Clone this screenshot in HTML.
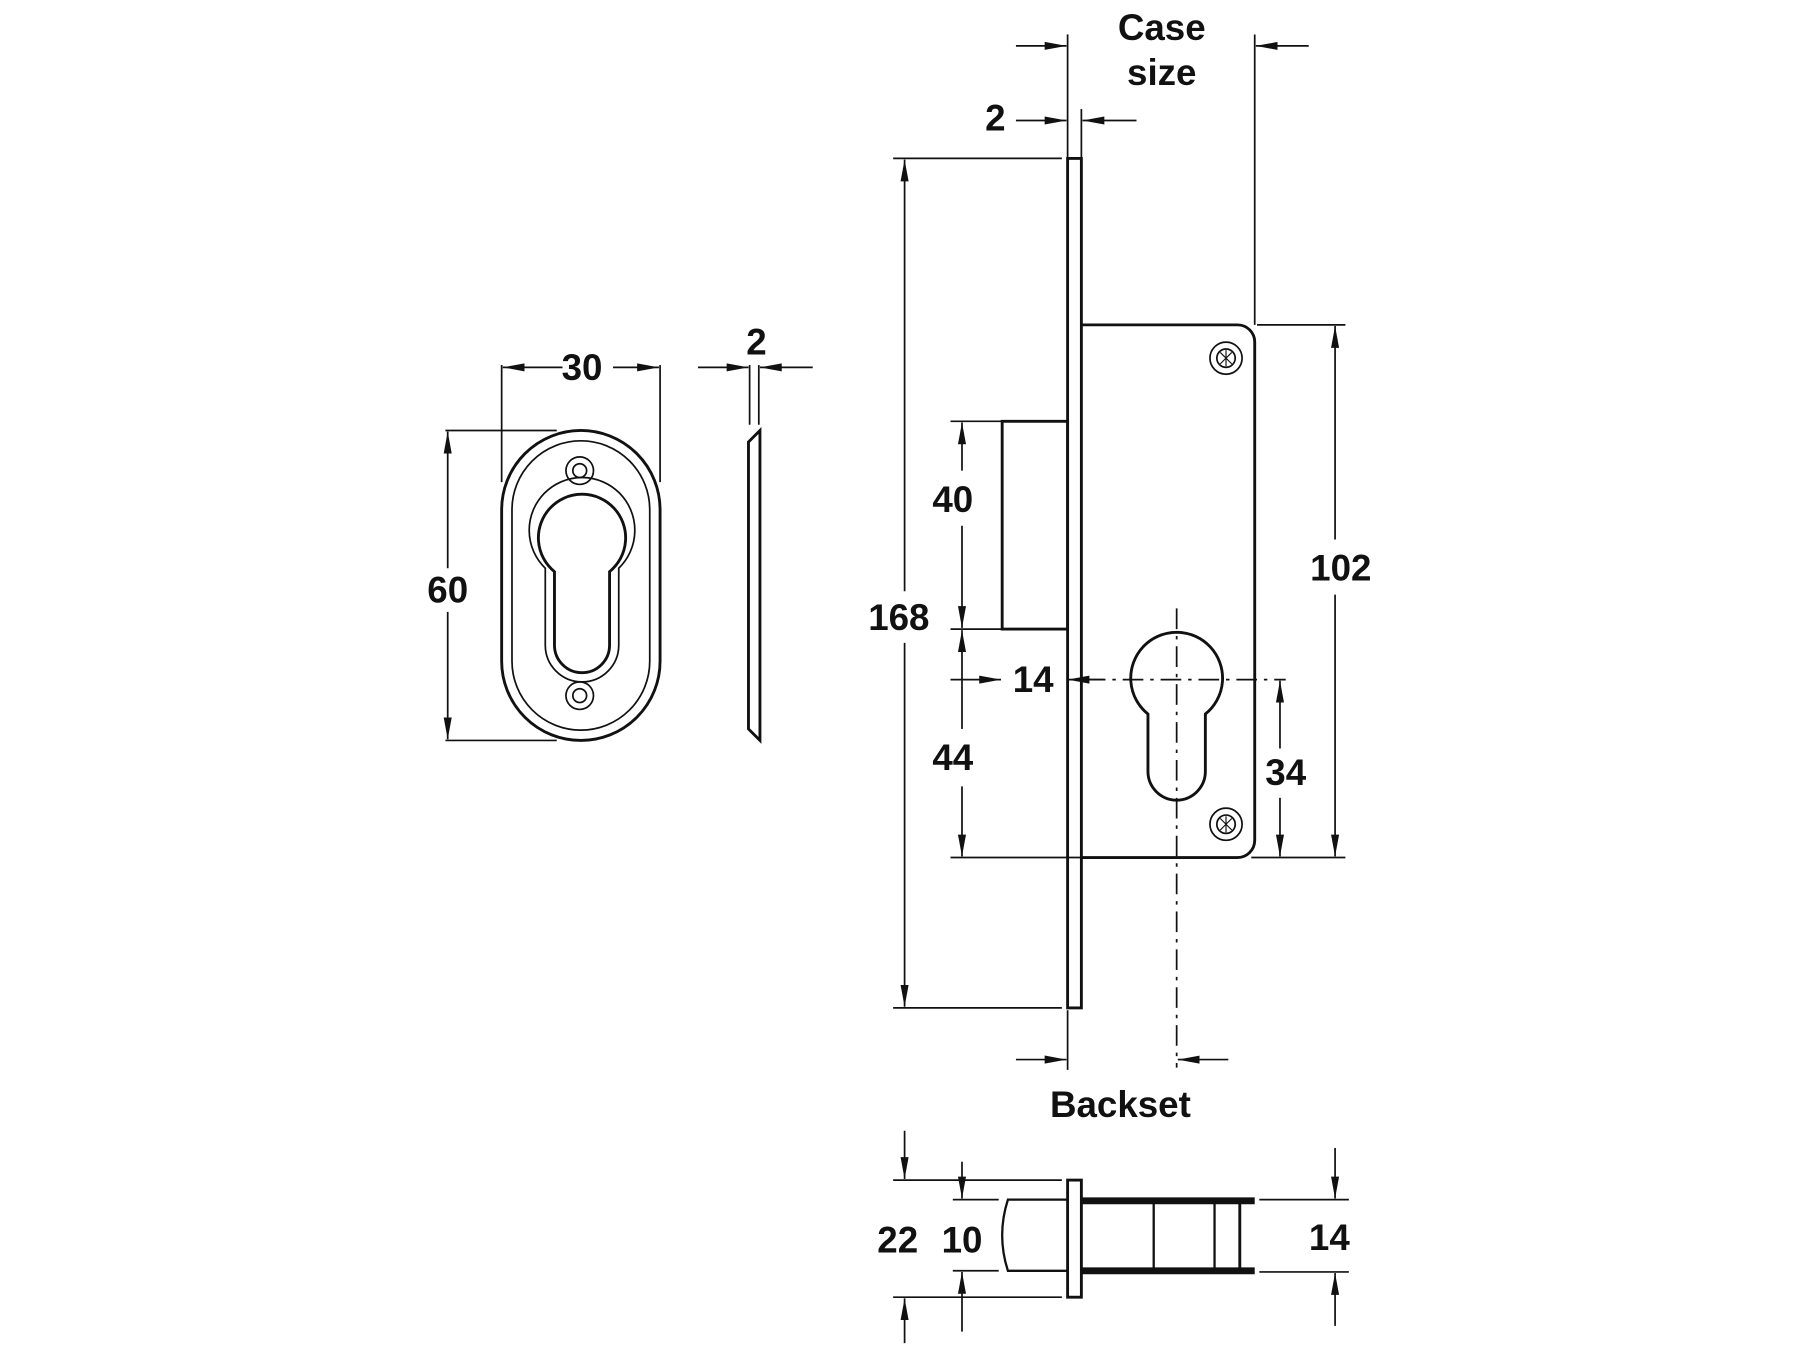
<!DOCTYPE html>
<html><head><meta charset="utf-8"><style>html,body{margin:0;padding:0;background:#fff}svg{display:block}text{font-family:"Liberation Sans",sans-serif;font-weight:bold;font-size:32px;fill:#111;text-anchor:middle;dominant-baseline:central}</style></head><body>
<svg width="1800" height="1350" viewBox="0 0 1568 1176" xmlns="http://www.w3.org/2000/svg">
<defs><marker id="a" markerWidth="20" markerHeight="10" refX="19" refY="5" orient="auto" markerUnits="userSpaceOnUse"><path d="M0,1.5 L19,5 L0,8.5 Z" fill="#111"/></marker></defs>
<g stroke="#111" fill="none" stroke-width="1.5">
<rect x="437" y="375" width="138" height="270" rx="69" ry="69" stroke-width="2.5"/>
<rect x="446" y="384" width="120" height="252" rx="60" ry="60"/>
<circle cx="505" cy="410" r="12"/><circle cx="505" cy="410" r="6"/>
<circle cx="505" cy="606" r="12"/><circle cx="505" cy="606" r="6"/>
<path d="M483,498 A38,38 0 1 1 531,498 L531,562 A24,24 0 0 1 483,562 Z" stroke-width="2.5"/>
<path d="M475,495 A46,46 0 1 1 539,495 L539,562 A32,32 0 0 1 475,562 Z"/>
<line x1="437" y1="318" x2="437" y2="420"/><line x1="575" y1="318" x2="575" y2="420"/>
<line x1="490" y1="320" x2="438" y2="320" marker-end="url(#a)"/><line x1="534" y1="320" x2="574" y2="320" marker-end="url(#a)"/>
<line x1="388" y1="375" x2="485" y2="375"/><line x1="388" y1="645" x2="485" y2="645"/>
<line x1="390" y1="495" x2="390" y2="376" marker-end="url(#a)"/><line x1="390" y1="533" x2="390" y2="644" marker-end="url(#a)"/>
<path d="M652,385 L662,375 L662,645 L652,635 Z" stroke-width="2.5"/>
<line x1="653" y1="318" x2="653" y2="370"/><line x1="661" y1="318" x2="661" y2="370"/>
<line x1="608" y1="320" x2="652" y2="320" marker-end="url(#a)"/><line x1="708" y1="320" x2="662" y2="320" marker-end="url(#a)"/>
<rect x="930" y="138" width="12" height="740" stroke-width="2.5"/>
<path d="M942,283 L1078,283 A15,15 0 0 1 1093,298 L1093,732 A15,15 0 0 1 1078,747 L942,747" stroke-width="2.5"/>
<rect x="873" y="367" width="57" height="181" stroke-width="2.5"/>
<path d="M1000,622 A40,40 0 1 1 1050,622 L1050,672 A25,25 0 0 1 1000,672 Z" stroke-width="2.5"/>
<circle cx="1068" cy="312" r="14"/><circle cx="1068" cy="312" r="8"/>
<circle cx="1068" cy="718" r="14"/><circle cx="1068" cy="718" r="8"/>
<path d="M1063,307 L1073,317 M1073,307 L1063,317 M1068,305 L1068,319 M1063,713 L1073,723 M1073,713 L1063,723 M1068,711 L1068,725" stroke-width="1"/>
<line x1="1025" y1="530" x2="1025" y2="930" stroke-dasharray="18,6,3,6"/>
<line x1="945" y1="592" x2="1120" y2="592" stroke-dasharray="18,6,3,6"/>
<line x1="778" y1="138" x2="925" y2="138"/><line x1="778" y1="878" x2="925" y2="878"/>
<line x1="788" y1="515" x2="788" y2="139" marker-end="url(#a)"/><line x1="788" y1="560" x2="788" y2="877" marker-end="url(#a)"/>
<line x1="828" y1="367" x2="873" y2="367"/><line x1="828" y1="548" x2="930" y2="548"/><line x1="828" y1="747" x2="942" y2="747"/>
<line x1="838" y1="410" x2="838" y2="368" marker-end="url(#a)"/><line x1="838" y1="458" x2="838" y2="547" marker-end="url(#a)"/>
<line x1="838" y1="635" x2="838" y2="549" marker-end="url(#a)"/><line x1="838" y1="685" x2="838" y2="746" marker-end="url(#a)"/>
<line x1="828" y1="592" x2="872" y2="592" marker-end="url(#a)"/><line x1="962" y1="592" x2="930" y2="592" marker-end="url(#a)"/>
<line x1="1090" y1="747" x2="1172" y2="747"/><line x1="1095" y1="283" x2="1172" y2="283"/>
<line x1="1115" y1="652" x2="1115" y2="593" marker-end="url(#a)"/><line x1="1115" y1="695" x2="1115" y2="746" marker-end="url(#a)"/>
<line x1="1163" y1="470" x2="1163" y2="284" marker-end="url(#a)"/><line x1="1163" y1="518" x2="1163" y2="746" marker-end="url(#a)"/>
<line x1="930" y1="30" x2="930" y2="138"/><line x1="1093" y1="30" x2="1093" y2="283"/><line x1="942" y1="95" x2="942" y2="138"/>
<line x1="885" y1="40" x2="929" y2="40" marker-end="url(#a)"/><line x1="1140" y1="40" x2="1094" y2="40" marker-end="url(#a)"/>
<line x1="885" y1="105" x2="929" y2="105" marker-end="url(#a)"/><line x1="990" y1="105" x2="943" y2="105" marker-end="url(#a)"/>
<line x1="930" y1="880" x2="930" y2="932"/>
<line x1="885" y1="923" x2="929" y2="923" marker-end="url(#a)"/><line x1="1070" y1="923" x2="1026" y2="923" marker-end="url(#a)"/>
<rect x="930" y="1028" width="12" height="102" stroke-width="2.5"/>
<path d="M930,1045 L878,1045 Q868,1076 878,1107 L930,1107" stroke-width="2"/>
<line x1="942" y1="1046" x2="1093" y2="1046" stroke-width="6"/><line x1="942" y1="1107" x2="1093" y2="1107" stroke-width="6"/>
<line x1="1005" y1="1046" x2="1005" y2="1107" stroke-width="2"/><line x1="1058" y1="1046" x2="1058" y2="1107" stroke-width="2"/><line x1="1080" y1="1046" x2="1080" y2="1107" stroke-width="2.5"/>
<line x1="778" y1="1028" x2="925" y2="1028"/><line x1="778" y1="1130" x2="925" y2="1130"/>
<line x1="830" y1="1045" x2="870" y2="1045"/><line x1="830" y1="1107" x2="870" y2="1107"/>
<line x1="788" y1="985" x2="788" y2="1027" marker-end="url(#a)"/><line x1="788" y1="1170" x2="788" y2="1131" marker-end="url(#a)"/>
<line x1="838" y1="1012" x2="838" y2="1044" marker-end="url(#a)"/><line x1="838" y1="1160" x2="838" y2="1108" marker-end="url(#a)"/>
<line x1="1097" y1="1045" x2="1175" y2="1045"/><line x1="1097" y1="1108" x2="1175" y2="1108"/>
<line x1="1163" y1="1000" x2="1163" y2="1044" marker-end="url(#a)"/><line x1="1163" y1="1155" x2="1163" y2="1109" marker-end="url(#a)"/>
</g>
<text x="507" y="320">30</text><text x="390" y="514">60</text><text x="659" y="298">2</text>
<text x="1012" y="24">Case</text><text x="1012" y="63">size</text><text x="867" y="103">2</text>
<text x="783" y="538">168</text><text x="830" y="435">40</text><text x="830" y="660">44</text><text x="900" y="592">14</text>
<text x="1120" y="673">34</text><text x="1168" y="495">102</text><text x="976" y="962">Backset</text>
<text x="782" y="1080">22</text><text x="838" y="1080">10</text><text x="1158" y="1078">14</text>
</svg>
</body></html>
